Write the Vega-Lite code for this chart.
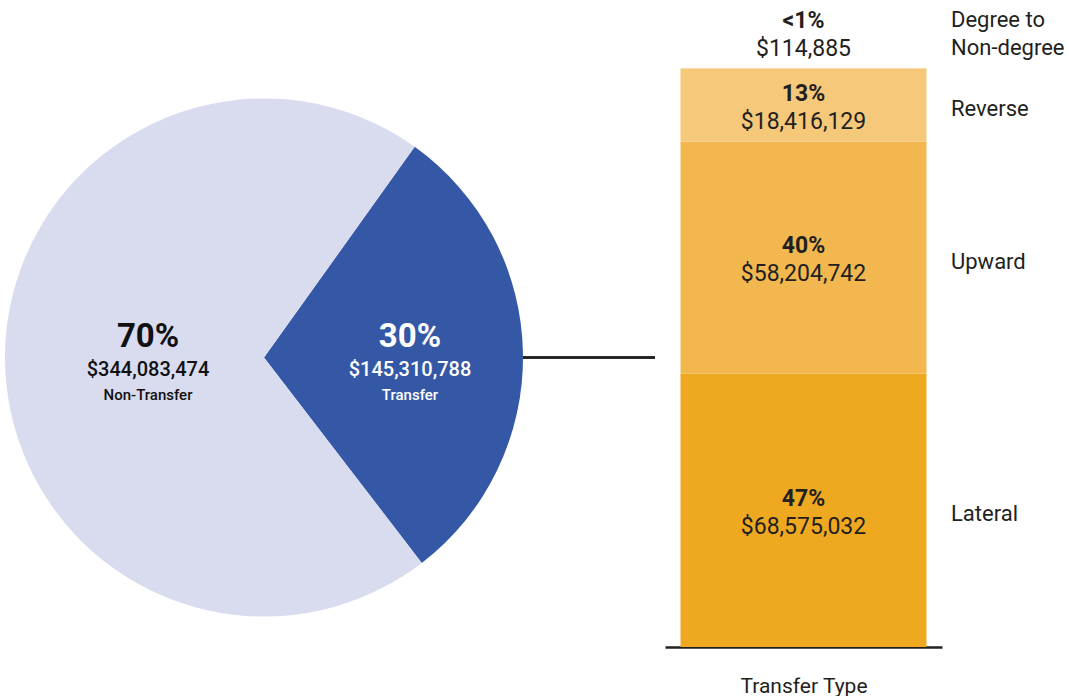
{
  "$schema": "https://vega.github.io/schema/vega-lite/v6.json",
  "padding": {"left": 0, "top": 9, "right": 0, "bottom": 0},
  "background": "white",
  "spacing": 137,
  "bounds": "flush",
  "resolve": {"scale": {"color": "independent"}},
  "config": {"view": {"stroke": null}, "font": "Roboto", "text": {"font": "Roboto"}},
  "datasets": {
    "pie": [
      {"group": "Transfer", "amount": 145310788, "pct": "30%", "dollars": "$145,310,788", "ord": 1},
      {"group": "Non-Transfer", "amount": 344083474, "pct": "70%", "dollars": "$344,083,474", "ord": 2}
    ],
    "bar": [
      {"category": "Transfer Type", "type": "Lateral", "amount": 68575032, "pct": "47%", "dollars": "$68,575,032", "ord": 1, "label": "Lateral"},
      {"category": "Transfer Type", "type": "Upward", "amount": 58204742, "pct": "40%", "dollars": "$58,204,742", "ord": 2, "label": "Upward"},
      {"category": "Transfer Type", "type": "Reverse", "amount": 18416129, "pct": "13%", "dollars": "$18,416,129", "ord": 3, "label": "Reverse"},
      {"category": "Transfer Type", "type": "Degree to Non-degree", "amount": 114885, "pct": "<1%", "dollars": "$114,885", "ord": 4, "label": "Degree to\nNon-degree"}
    ]
  },
  "hconcat": [
    {
      "width": 528,
      "height": 579,
      "data": {"name": "pie"},
      "transform": [
        {"stack": "amount", "groupby": [], "sort": [{"field": "ord"}], "as": ["t0", "t1"]},
        {"calculate": "(datum.t0 + datum.t1) / 2", "as": "tm"}
      ],
      "layer": [
        {
          "mark": {"type": "arc", "outerRadius": 259},
          "encoding": {
            "theta": {"field": "t0", "type": "quantitative", "scale": {"domain": [0, 489394262], "range": [0.621, 6.9042], "nice": false, "zero": false}},
            "theta2": {"field": "t1"},
            "color": {"field": "group", "type": "nominal", "scale": {"domain": ["Transfer", "Non-Transfer"], "range": ["#3558A6", "#D9DBEE"]}, "legend": null}
          }
        },
        {
          "transform": [{"filter": "datum.group == 'Non-Transfer'"}],
          "mark": {"type": "text", "radius": 116, "fontSize": 33, "fontWeight": "bold", "color": "#111111", "dy": -22},
          "encoding": {"theta": {"field": "tm", "type": "quantitative"}, "text": {"field": "pct"}}
        },
        {
          "transform": [{"filter": "datum.group == 'Non-Transfer'"}],
          "mark": {"type": "text", "radius": 116, "fontSize": 20, "fontWeight": 500, "color": "#111111", "dy": 11},
          "encoding": {"theta": {"field": "tm", "type": "quantitative"}, "text": {"field": "dollars"}}
        },
        {
          "transform": [{"filter": "datum.group == 'Non-Transfer'"}],
          "mark": {"type": "text", "radius": 116, "fontSize": 15, "fontWeight": 500, "color": "#111111", "dy": 36},
          "encoding": {"theta": {"field": "tm", "type": "quantitative"}, "text": {"field": "group"}}
        },
        {
          "transform": [{"filter": "datum.group == 'Transfer'"}],
          "mark": {"type": "text", "radius": 146, "fontSize": 33, "fontWeight": "bold", "color": "white", "dy": -18},
          "encoding": {"theta": {"field": "tm", "type": "quantitative"}, "text": {"field": "pct"}}
        },
        {
          "transform": [{"filter": "datum.group == 'Transfer'"}],
          "mark": {"type": "text", "radius": 146, "fontSize": 20, "fontWeight": 500, "color": "white", "dy": 15},
          "encoding": {"theta": {"field": "tm", "type": "quantitative"}, "text": {"field": "dollars"}}
        },
        {
          "transform": [{"filter": "datum.group == 'Transfer'"}],
          "mark": {"type": "text", "radius": 146, "fontSize": 15, "fontWeight": 500, "color": "white", "dy": 40},
          "encoding": {"theta": {"field": "tm", "type": "quantitative"}, "text": {"field": "group"}}
        }
      ]
    },
    {
      "width": 277,
      "height": 579,
      "data": {"name": "bar"},
      "transform": [
        {"stack": "amount", "groupby": [], "sort": [{"field": "ord"}], "as": ["y0", "y1"]},
        {"calculate": "(datum.y0 + datum.y1) / 2", "as": "mid"}
      ],
      "layer": [
        {
          "mark": {"type": "bar"},
          "encoding": {
            "x": {"field": "category", "type": "nominal", "scale": {"paddingInner": 0, "paddingOuter": 0.063},
              "axis": {"labels": false, "ticks": false, "domainColor": "#231F20", "domainWidth": 2.5, "title": "Transfer Type", "titleFontSize": 21, "titleFontWeight": "normal", "titleColor": "#231F20", "titlePadding": 28, "titleFont": "Roboto"}},
            "y": {"field": "y0", "type": "quantitative", "scale": {"domain": [0, 145310788], "nice": false}, "axis": null},
            "y2": {"field": "y1"},
            "color": {"field": "type", "type": "nominal", "scale": {"domain": ["Lateral", "Upward", "Reverse", "Degree to Non-degree"], "range": ["#EFA920", "#F2B84F", "#F5C87A", "#F8D69C"]}, "legend": null}
          }
        },
        {
          "mark": {"type": "rule", "x": -142, "x2": -10, "color": "#231F20", "strokeWidth": 2},
          "encoding": {"y": {"datum": 72655394, "type": "quantitative"}}
        },
        {
          "transform": [{"filter": "datum.ord < 4"}],
          "mark": {"type": "text", "fontSize": 23, "fontWeight": "bold", "color": "#231F20", "dy": -11.5},
          "encoding": {"x": {"field": "category", "type": "nominal"}, "y": {"field": "mid", "type": "quantitative"}, "text": {"field": "pct"}}
        },
        {
          "transform": [{"filter": "datum.ord < 4"}],
          "mark": {"type": "text", "fontSize": 23, "color": "#231F20", "dy": 16.5},
          "encoding": {"x": {"field": "category", "type": "nominal"}, "y": {"field": "mid", "type": "quantitative"}, "text": {"field": "dollars"}}
        },
        {
          "transform": [{"filter": "datum.ord == 4"}],
          "mark": {"type": "text", "fontSize": 23, "fontWeight": "bold", "color": "#231F20", "dy": -47},
          "encoding": {"x": {"field": "category", "type": "nominal"}, "y": {"field": "y1", "type": "quantitative"}, "text": {"field": "pct"}}
        },
        {
          "transform": [{"filter": "datum.ord == 4"}],
          "mark": {"type": "text", "fontSize": 23, "color": "#231F20", "dy": -19},
          "encoding": {"x": {"field": "category", "type": "nominal"}, "y": {"field": "y1", "type": "quantitative"}, "text": {"field": "dollars"}}
        },
        {
          "transform": [{"filter": "datum.ord < 4"}],
          "mark": {"type": "text", "fontSize": 22, "color": "#231F20", "align": "left", "dx": 147.5, "dy": 4},
          "encoding": {"x": {"field": "category", "type": "nominal"}, "y": {"field": "mid", "type": "quantitative"}, "text": {"field": "label"}}
        },
        {
          "transform": [{"filter": "datum.ord == 4"}],
          "mark": {"type": "text", "fontSize": 22, "color": "#231F20", "align": "left", "dx": 147.5, "dy": -48, "lineBreak": "\n", "lineHeight": 28},
          "encoding": {"x": {"field": "category", "type": "nominal"}, "y": {"field": "y1", "type": "quantitative"}, "text": {"field": "label"}}
        }
      ]
    }
  ]
}
